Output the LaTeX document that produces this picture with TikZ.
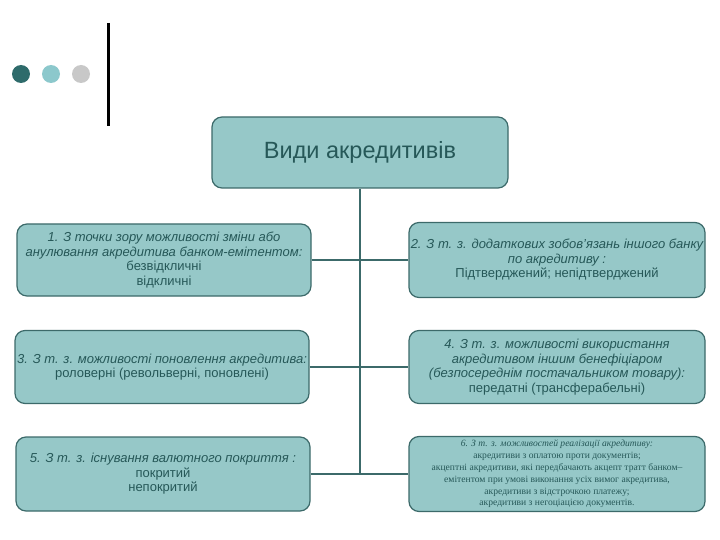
\documentclass[tikz,border=0pt]{standalone}
\usepackage{fontspec}
\setmainfont{Liberation Sans}
\newfontfamily\smallserif{Liberation Serif}
\usetikzlibrary{positioning}
\definecolor{boxfill}{HTML}{96C8C8}
\definecolor{boxline}{HTML}{3C6A6A}
\definecolor{boxtext}{HTML}{265858}
\definecolor{dotdark}{HTML}{2E6B6B}
\definecolor{dotmid}{HTML}{8CC8CC}
\definecolor{dotgrey}{HTML}{C8C8C8}
\newcommand{\boxfont}{\fontsize{13}{14.5}\selectfont}
\begin{document}
\begin{tikzpicture}[x=1pt,y=-1pt,
  kind/.style={draw=boxline,line width=1.2pt,fill=boxfill,rounded corners=10pt,
    text=boxtext,align=center,inner sep=1pt},
  leftkind/.style={kind,minimum width=294pt},
  rightkind/.style={kind,minimum width=296pt},
  link/.style={draw=boxline,line width=1.6pt}]
% \draw[help lines] (0,0) grid (720,540);
\useasboundingbox (0,0) rectangle (720,540);
% the three dots and the bar
\node (d1) [circle,fill=dotdark,minimum size=18pt,inner sep=0pt] at (21,74) {};
\node (d2) [circle,fill=dotmid,minimum size=18pt,inner sep=0pt] at (51,74) {};
\node (d3) [circle,fill=dotgrey,minimum size=18pt,inner sep=0pt] at (81,74) {};
\coordinate (bar1) at (108,23);
\coordinate (bar2) at (108,126);
\draw[line width=3pt] (bar1) -- (bar2);
%
\node (top) [kind,minimum width=296pt,minimum height=71pt,font=\fontsize{23.5}{26}\selectfont] at (360,152.5) {Види акредитивів};
%
\node (b1) [leftkind,minimum height=72pt,font=\boxfont] at (164,260)
  {\itshape 1. З точки зору можливості зміни або\\
   \itshape анулювання акредитива банком-емітентом:\\
   безвідкличні\\ відкличні};
\node (b2) [rightkind,minimum height=75pt,font=\boxfont] at (557,260)
  {\itshape 2. З т. з. додаткових зобов'язань іншого банку\\
   \itshape по акредитиву :\\
   Підтверджений; непідтверджений};
\node (b3) [leftkind,minimum height=73pt,font=\boxfont] at (162,367)
  {\itshape 3. З т. з. можливості поновлення акредитива:\\
   роловерні (револьверні, поновлені)};
\node (b4) [rightkind,minimum height=73pt,font=\boxfont] at (557,367)
  {\itshape 4. З т. з. можливості використання\\
   \itshape акредитивом іншим бенефіціаром\\
   \itshape (безпосереднім постачальником товару):\\
   передатні (трансферабельні)};
\node (b5) [leftkind,minimum height=74pt,font=\boxfont] at (163,474)
  {\itshape 5. З т. з. існування валютного покриття :\\
   покритий\\ непокритий};
\node (b6) [rightkind,minimum height=75pt,font=\fontsize{9.6}{11.8}\selectfont\smallserif] at (557,474)
  {\itshape 6. З т. з. можливостей реалізації акредитиву:\\
   акредитиви з оплатою проти документів;\\
   акцептні акредитиви, які передбачають акцепт тратт банком–\\
   емітентом при умові виконання усіх вимог акредитива,\\
   акредитиви з відстрочкою платежу;\\
   акредитиви з негоціацією документів.};
%
\coordinate (j3) at (top.south |- b5.east);
\path[link] (top.south) -- (j3);
\path[link] (b1.east) -- (b2.west);
\path[link] (b3.east) -- (b4.west);
\path[link] (b5.east) -- (b6.west);
\end{tikzpicture}
\end{document}
